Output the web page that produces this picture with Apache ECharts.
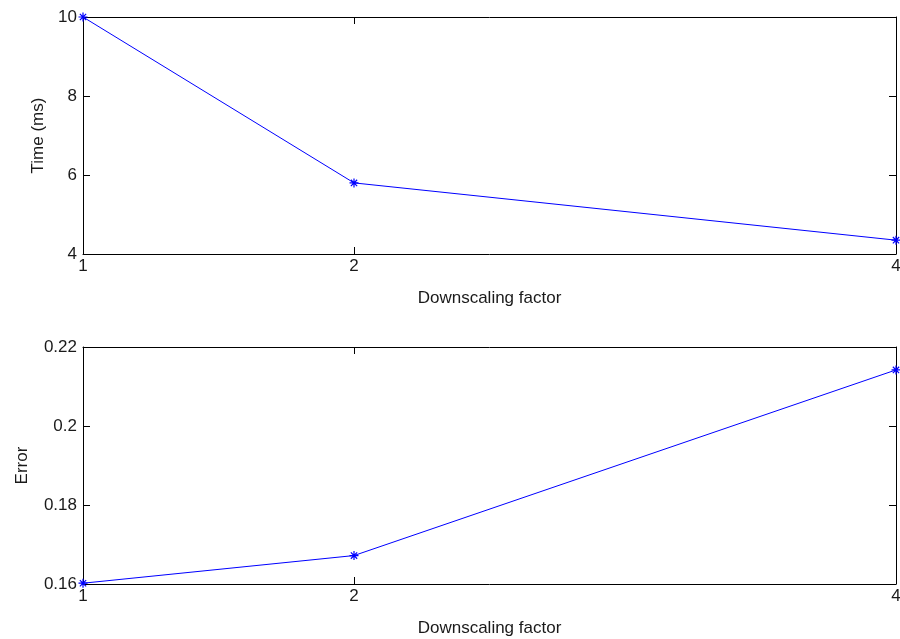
<!DOCTYPE html>
<html>
<head>
<meta charset="utf-8">
<title>Downscaling factor: time and error</title>
<script src="https://cdn.jsdelivr.net/npm/echarts@6/dist/echarts.min.js"></script>
<style>
  html, body { margin: 0; padding: 0; background: #fff; }
  #chart { width: 900px; height: 639px; }
</style>
</head>
<body>
<div id="chart"></div>
<script>
// Downscaling factors along the x axis
const factors = [1, 2, 4];
const factorTicks = [1, 2, 4];
// Processing time per factor (ms)
const timeMs = [10, 5.8, 4.35];
// Error per factor
const errorVals = [0.1602, 0.1672, 0.2142];

const timeTicks = { min: 4, max: 10, interval: 2 };
const errorTicks = { min: 0.16, max: 0.22, interval: 0.02 };

const FONT = '"Liberation Sans", Arial, sans-serif';
const FS = 17;
const TEXT = '#1a1a1a';
const AXIS = '#000';

// Asterisk marker drawn as stroked segments
const asterisk = 'path://M5,0 L5,10 M0,5 L10,5 M1.5,1.5 L8.5,8.5 M1.5,8.5 L8.5,1.5';

function xAxes(gridIndex) {
  const base = {
    type: 'value', gridIndex, min: 1, max: 4,
    splitLine: { show: false },
    axisLine: { show: true, onZero: false, lineStyle: { color: AXIS, width: 1 } },
    axisTick: { show: true, inside: true, length: 7, customValues: factorTicks, lineStyle: { color: AXIS } }
  };
  return [
    Object.assign({}, base, {
      position: 'bottom',
      name: 'Downscaling factor', nameLocation: 'middle', nameGap: 36,
      nameTextStyle: { fontFamily: FONT, fontSize: FS, color: TEXT },
      axisLabel: { show: true, customValues: factorTicks, margin: 4, fontFamily: FONT, fontSize: FS, color: TEXT }
    }),
    Object.assign({}, base, { position: 'top', axisLabel: { show: false } })
  ];
}

function yAxes(gridIndex, ticks, name, nameGap, fmt) {
  const base = {
    type: 'value', gridIndex, min: ticks.min, max: ticks.max, interval: ticks.interval,
    splitLine: { show: false },
    axisLine: { show: true, onZero: false, lineStyle: { color: AXIS, width: 1 } },
    axisTick: { show: true, inside: true, length: 7, lineStyle: { color: AXIS } }
  };
  return [
    Object.assign({}, base, {
      position: 'left',
      name, nameLocation: 'middle', nameGap,
      nameTextStyle: { fontFamily: FONT, fontSize: FS, color: TEXT },
      axisLabel: { show: true, margin: 6, fontFamily: FONT, fontSize: FS, color: TEXT, formatter: fmt }
    }),
    Object.assign({}, base, { position: 'right', axisLabel: { show: false } })
  ];
}

const fmtTime = v => String(v);
const fmtErr = v => String(+v.toFixed(2));

const lineStyle = { color: '#0000ff', width: 1 };
const markStyle = { color: 'rgba(0,0,0,0)', borderColor: '#0000ff', borderWidth: 1.2 };

const option = {
  animation: false,
  backgroundColor: '#fff',
  grid: [
    { left: 83, right: 4, top: 17, height: 237, outerBoundsMode: 'none' },
    { left: 83, right: 4, top: 347, height: 237, outerBoundsMode: 'none' }
  ],
  xAxis: [...xAxes(0), ...xAxes(1)],
  yAxis: [
    ...yAxes(0, timeTicks, 'Time (ms)', 36, fmtTime),
    ...yAxes(1, errorTicks, 'Error', 52, fmtErr)
  ],
  series: [
    {
      type: 'line', xAxisIndex: 0, yAxisIndex: 0,
      data: factors.map((f, i) => [f, timeMs[i]]),
      symbol: asterisk, symbolSize: 9, showAllSymbol: true,
      lineStyle, itemStyle: markStyle, clip: false
    },
    {
      type: 'line', xAxisIndex: 2, yAxisIndex: 2,
      data: factors.map((f, i) => [f, errorVals[i]]),
      symbol: asterisk, symbolSize: 9, showAllSymbol: true,
      lineStyle, itemStyle: markStyle, clip: false
    }
  ]
};

const chart = echarts.init(document.getElementById('chart'), null, { renderer: 'canvas' });
chart.setOption(option);
</script>
</body>
</html>
